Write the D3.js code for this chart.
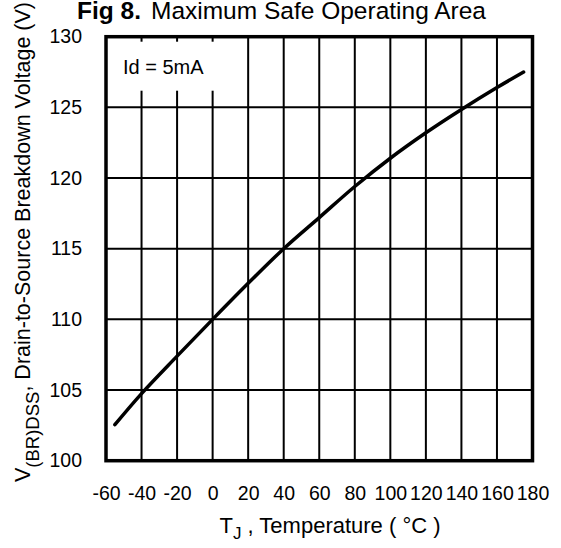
<!DOCTYPE html>
<html><head><meta charset="utf-8">
<script src="https://cdn.jsdelivr.net/npm/d3@7"></script>
<style>body{margin:0;background:#fff}text{font-family:"Liberation Sans",Arial,sans-serif;fill:#000}</style>
</head><body><svg id="c" width="561" height="548"></svg>
<script>
const temps = [-55, -40, -20, 0, 20, 40, 60, 80, 100, 120, 140, 160, 175];
const volts = [102.55, 104.75, 107.4, 110.0, 112.55, 115.0, 117.2, 119.4, 121.4, 123.2, 124.85, 126.4, 127.5];
const xTicks = [-60, -40, -20, 0, 20, 40, 60, 80, 100, 120, 140, 160, 180];
const yTicks = [100, 105, 110, 115, 120, 125, 130];

const svg = d3.select("#c");
const L = 106, R = 532.5, T = 36.7, B = 460.7;
const x = d3.scaleLinear().domain([-60, 180]).range([L, R]);
const y = d3.scaleLinear().domain([100, 130]).range([B, T]);

// grid
const g = svg.append("g");
g.selectAll("line.v").data(xTicks.slice(1, -1)).enter().append("line")
  .attr("x1", d => x(d)).attr("x2", d => x(d)).attr("y1", T).attr("y2", B)
  .attr("stroke", "#000").attr("stroke-width", 2);
g.selectAll("line.h").data(yTicks.slice(1, -1)).enter().append("line")
  .attr("x1", L).attr("x2", R).attr("y1", d => y(d)).attr("y2", d => y(d))
  .attr("stroke", "#000").attr("stroke-width", 2);

// label box
svg.append("rect").attr("x", L + 2).attr("y", T + 5).attr("width", 128).attr("height", 49).attr("fill", "#fff");
svg.append("text").attr("x", 123).attr("y", 74).attr("font-size", 20).text("Id = 5mA");

// curve
svg.append("path").datum(temps.map((t, i) => [t, volts[i]]))
  .attr("d", d3.line().x(d => x(d[0])).y(d => y(d[1])).curve(d3.curveCatmullRom))
  .attr("fill", "none").attr("stroke", "#000").attr("stroke-width", 3.5).attr("stroke-linecap", "round");

// frame
svg.append("rect").attr("x", L).attr("y", T).attr("width", R - L).attr("height", B - T)
  .attr("fill", "none").attr("stroke", "#000").attr("stroke-width", 3.5);

// axes via d3
const xa = svg.append("g").attr("transform", `translate(0,${B})`)
  .call(d3.axisBottom(x).tickValues(xTicks).tickFormat(d => String(d)).tickSize(0).tickPadding(25.5));
xa.select(".domain").remove();
xa.selectAll("text").attr("font-size", 19.5).attr("font-family", "Liberation Sans, Arial, sans-serif");
const ya = svg.append("g").attr("transform", `translate(${L},0)`)
  .call(d3.axisLeft(y).tickValues(yTicks).tickFormat(d => String(d)).tickSize(0).tickPadding(24));
ya.select(".domain").remove();
ya.selectAll("text").attr("font-size", 19.5).attr("font-family", "Liberation Sans, Arial, sans-serif");

// title
const tt = svg.append("text").attr("x", 77).attr("y", 18.5).attr("font-size", 24.5);
tt.append("tspan").attr("font-weight", "bold").text("Fig 8.");
tt.append("tspan").attr("dx", 10).text("Maximum Safe Operating Area");

// x title
const xt = svg.append("text").attr("x", 330).attr("y", 533).attr("font-size", 22).attr("text-anchor", "middle");
xt.append("tspan").text("T");
xt.append("tspan").attr("font-size", 17).attr("dy", 6).text("J");
xt.append("tspan").attr("dy", -6).text(" , Temperature ( °C )");

// y title
const yt = svg.append("text").attr("transform", "translate(30,482) rotate(-90)").attr("font-size", 21.5);
yt.append("tspan").text("V");
yt.append("tspan").attr("font-size", 18.5).attr("dy", 9).text("(BR)DSS");
yt.append("tspan").attr("dy", -9).text(", Drain-to-Source Breakdown Voltage (V)");
</script></body></html>
